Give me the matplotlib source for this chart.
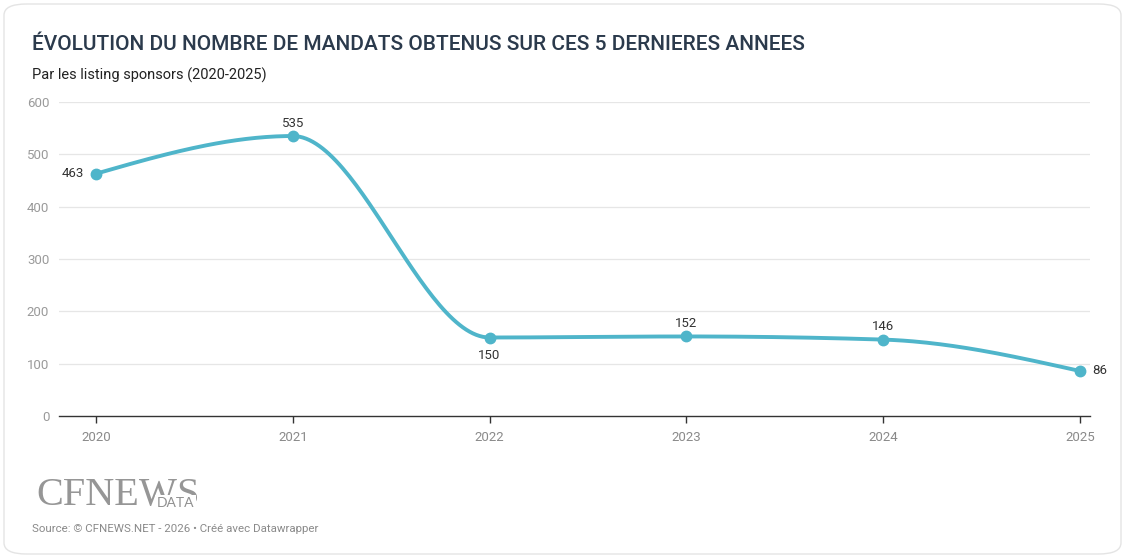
import numpy as np
import matplotlib
matplotlib.use("Agg")
import matplotlib.pyplot as plt
from matplotlib.patches import FancyBboxPatch

years = [2020, 2021, 2022, 2023, 2024, 2025]
mandats = [463, 535, 150, 152, 146, 86]
yticks = [0, 100, 200, 300, 400, 500, 600]
label_pos = ["left", "top", "bottom", "top", "top", "right"]

title = "ÉVOLUTION DU NOMBRE DE MANDATS OBTENUS SUR CES 5 DERNIERES ANNEES"
subtitle = "Par les listing sponsors (2020-2025)"
source = "Source: © CFNEWS.NET - 2026 • Créé avec Datawrapper"

LINE = "#4fb5ca"

def monotone_x(xs, ys, n=60):
    xs = np.asarray(xs, float); ys = np.asarray(ys, float)
    h = np.diff(xs); s = np.diff(ys) / h
    t = np.zeros(len(xs))
    for i in range(1, len(xs) - 1):
        p = (s[i-1] * h[i] + s[i] * h[i-1]) / (h[i-1] + h[i])
        t[i] = (np.sign(s[i-1]) + np.sign(s[i])) * min(abs(s[i-1]), abs(s[i]), 0.5 * abs(p))
    t[0] = (3 * s[0] - t[1]) / 2
    t[-1] = (3 * s[-1] - t[-2]) / 2
    X, Y = [], []
    u = np.linspace(0, 1, n)
    for i in range(len(xs) - 1):
        dx = h[i] / 3
        P = [(xs[i], ys[i]), (xs[i] + dx, ys[i] + dx * t[i]),
             (xs[i+1] - dx, ys[i+1] - dx * t[i+1]), (xs[i+1], ys[i+1])]
        b = [(1-u)**3, 3*(1-u)**2*u, 3*(1-u)*u**2, u**3]
        X.extend(sum(b[k] * P[k][0] for k in range(4)))
        Y.extend(sum(b[k] * P[k][1] for k in range(4)))
    return np.array(X), np.array(Y)

plt.rcParams['font.family'] = ['Roboto', 'DejaVu Sans']

W, H = 1125, 558
fig = plt.figure(figsize=(W/100, H/100), dpi=100)
fig.patch.set_facecolor("white")
card = FancyBboxPatch((4/W, 4/H), 1 - 8/W, 1 - 8/H,
                      boxstyle="round,pad=0,rounding_size=0.02",
                      transform=fig.transFigure, facecolor="none",
                      edgecolor="#e4e4e4", linewidth=1.0, zorder=-10)
fig.patches.append(card)

ax = fig.add_axes([59/W, (H-416)/H, (1090-59)/W, (416-102)/H])
ax.set_facecolor("none")
ax.set_xlim(2019.812, 2025.051)
ax.set_ylim(0, 600)
for sp in ax.spines.values():
    sp.set_visible(False)
ax.set_yticks(yticks)
ax.set_yticklabels([str(v) for v in yticks])
ax.tick_params(axis="y", length=0, pad=7, labelsize=9.5, labelcolor="#9a9a9a")
ax.set_xticks(years)
ax.set_xticklabels([str(y) for y in years])
ax.tick_params(axis="x", length=5, width=1, color="#333333", pad=6, labelsize=9.5, labelcolor="#8a8a8a")
for v in yticks[1:]:
    ax.axhline(v, color="#e6e6e6", lw=0.9, zorder=1)
ax.axhline(0, color="#333333", lw=1.0, zorder=2, clip_on=False)

cx, cy = monotone_x(years, mandats)
ax.plot(cx, cy, color=LINE, lw=2.8, zorder=3, solid_capstyle="round")
ax.plot(years, mandats, "o", color=LINE, ms=7.5, zorder=4)

for x, y, pos in zip(years, mandats, label_pos):
    if pos == "left":
        ax.annotate(str(y), (x, y), xytext=(-9, 0), textcoords="offset points",
                    ha="right", va="center", fontsize=9.5, color="#333333")
    elif pos == "right":
        ax.annotate(str(y), (x, y), xytext=(9, 0), textcoords="offset points",
                    ha="left", va="center", fontsize=9.5, color="#333333")
    elif pos == "top":
        ax.annotate(str(y), (x, y), xytext=(0, 4.5), textcoords="offset points",
                    ha="center", va="bottom", fontsize=9.5, color="#333333")
    else:
        ax.annotate(str(y), (x, y), xytext=(0, -8), textcoords="offset points",
                    ha="center", va="top", fontsize=9.5, color="#333333")

fig.text(32/W, 1 - 45/H, title, ha="left", va="center", fontsize=15,
         color="#2b3a4c", fontweight="medium")
fig.text(32/W, 1 - 75/H, subtitle, ha="left", va="center", fontsize=10.5, color="#222222")

fig.text(36/W, 1 - 505/H, "CFNEWS", ha="left", va="baseline", fontsize=29,
         color="#969696", family="Liberation Serif", zorder=1)
fig.text(194/W, 1 - 507/H, "DATA", ha="right", va="baseline", fontsize=10,
         color="#8f8f8f", family="Lato", zorder=2,
         bbox=dict(boxstyle="square,pad=0.12", facecolor="white", edgecolor="none"))
fig.text(32/W, 1 - 529/H, source, ha="left", va="center", fontsize=8.25, color="#8a8a8a")

fig.savefig("out.png", dpi=100, facecolor="white")
